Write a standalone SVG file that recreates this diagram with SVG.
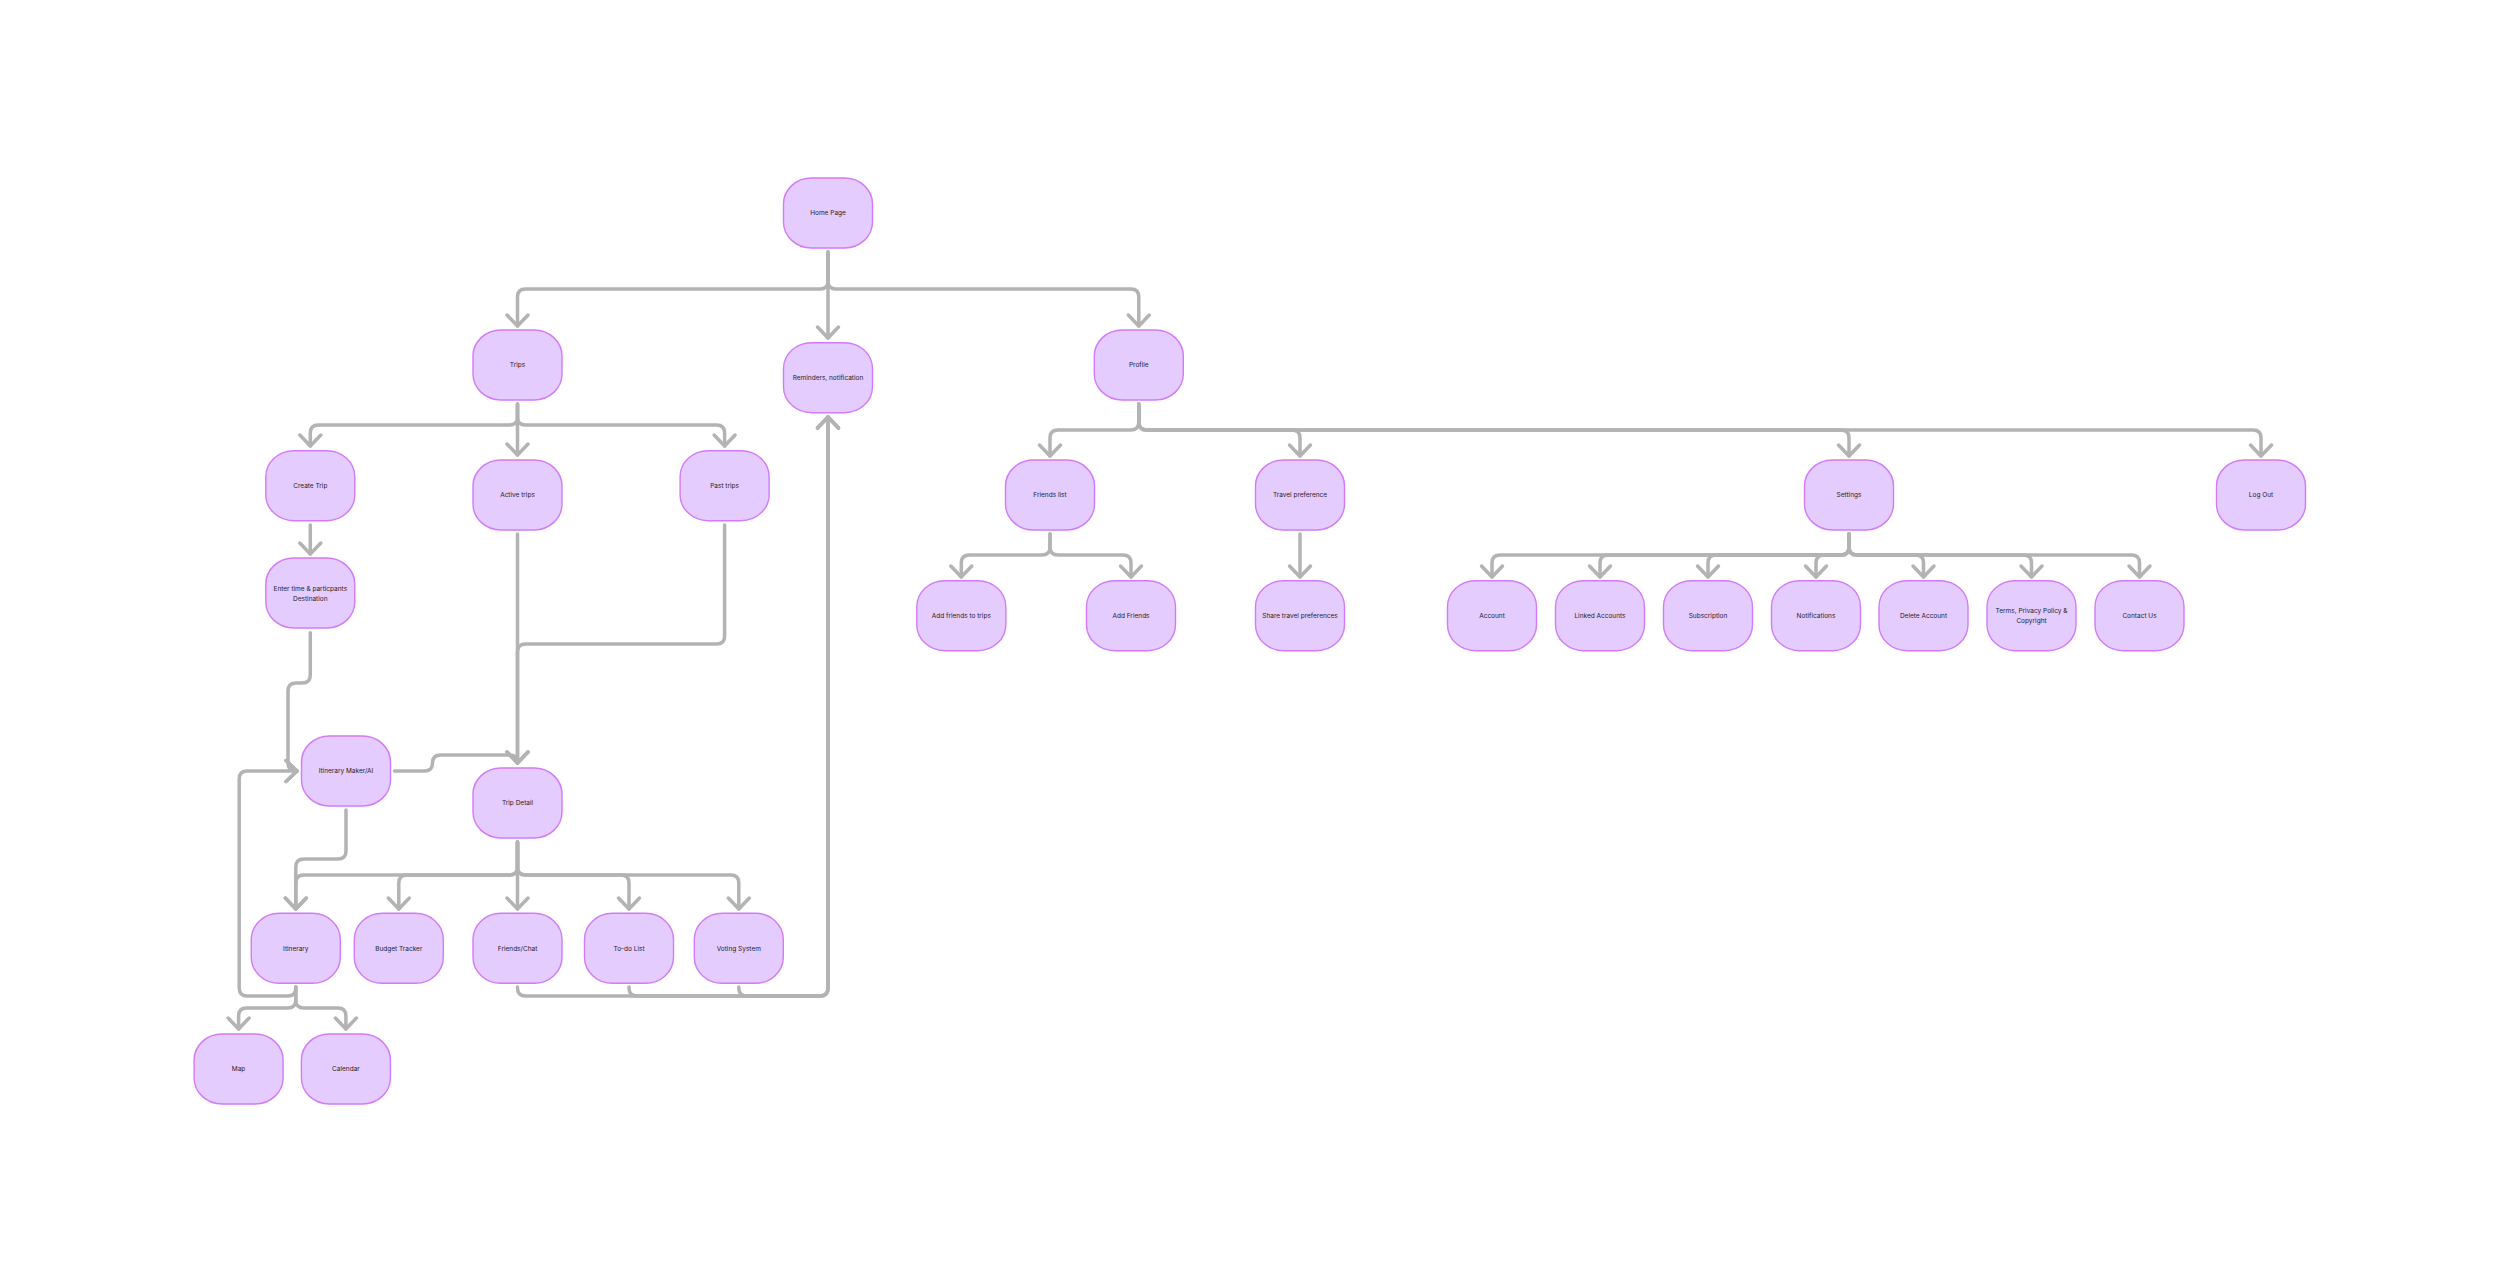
<svg xmlns="http://www.w3.org/2000/svg" width="2500" height="1282" viewBox="0 0 2500 1282">
<style>
.n rect{fill:#E4CCFF;stroke:#D27AF8;stroke-width:1.4}
.n text{font-family:Inter,"Noto Sans",sans-serif;font-size:6.5px;fill:#1E1E1E;text-anchor:middle}
.c path{fill:none;stroke:#B3B3B3;stroke-width:3.5;stroke-linecap:round;stroke-linejoin:round;marker-end:url(#ar)}
</style>
<defs>
<marker id="ar" markerUnits="userSpaceOnUse" viewBox="-14 -14 18 28" markerWidth="18" markerHeight="28" refX="0" refY="0" orient="auto" overflow="visible">
<path d="M-11,-10.5 L0,0 L-11,10.5" fill="none" stroke="#B3B3B3" stroke-width="3.5" stroke-linecap="round" stroke-linejoin="round"/>
</marker>
</defs>
<rect width="2500" height="1282" fill="#FFFFFF"/>
<g class="c" id="connectors">
<path d="M828,252 V281 Q828,289 820,289 H525.5 Q517.5,289 517.5,297 V326"/>
<path d="M828,252 V338"/>
<path d="M828,252 V281 Q828,289 836,289 H1130.8 Q1138.8,289 1138.8,297 V326"/>
<path d="M517.5,404 V417 Q517.5,425 509.5,425 H318.3 Q310.3,425 310.3,433 V446"/>
<path d="M517.5,404 V455"/>
<path d="M517.5,404 V417 Q517.5,425 525.5,425 H716.6 Q724.6,425 724.6,433 V446"/>
<path d="M310.3,525 V554"/>
<path d="M310.3,632.7 V675 Q310.3,683 302.3,683 H296 Q288,683 288,691 V763 Q288,771 296,771 H297"/>
<path d="M394.5,771 H424.5 Q432.5,771 432.5,763 Q432.5,755 440.5,755 H509.5 Q517.5,755 517.5,763"/>
<path d="M517.5,534 V763"/>
<path d="M724.6,525 V636 Q724.6,644 716.6,644 H525.5 Q517.5,644 517.5,652 V763"/>
<path d="M517.5,842 V867 Q517.5,875 509.5,875 H303.8 Q295.8,875 295.8,883 V909"/>
<path d="M517.5,842 V867 Q517.5,875 509.5,875 H406.8 Q398.8,875 398.8,883 V909"/>
<path d="M517.5,842 V909"/>
<path d="M517.5,842 V867 Q517.5,875 525.5,875 H621 Q629,875 629,883 V909"/>
<path d="M517.5,842 V867 Q517.5,875 525.5,875 H730.8 Q738.8,875 738.8,883 V909"/>
<path d="M346,810 V851 Q346,859 338,859 H303.8 Q295.8,859 295.8,867 V909"/>
<path d="M295.8,987 V1000 Q295.8,1008 287.8,1008 H246.6 Q238.6,1008 238.6,1016 V1029"/>
<path d="M295.8,987 V1000 Q295.8,1008 303.8,1008 H337.9 Q345.9,1008 345.9,1016 V1029"/>
<path d="M295.8,987 V988 Q295.8,996 287.8,996 H247.2 Q239.2,996 239.2,988 V779 Q239.2,771 247.2,771 H297"/>
<path d="M517.5,987 V988 Q517.5,996 525.5,996 H820 Q828,996 828,988 V417"/>
<path d="M629,987 V988 Q629,996 637,996 H820 Q828,996 828,988 V417"/>
<path d="M738.8,987 V988 Q738.8,996 746.8,996 H820 Q828,996 828,988 V417"/>
<path d="M1138.8,404 V422 Q1138.8,430 1130.8,430 H1058 Q1050,430 1050,438 V456"/>
<path d="M1138.8,404 V422 Q1138.8,430 1146.8,430 H1292 Q1300,430 1300,438 V456"/>
<path d="M1138.8,404 V422 Q1138.8,430 1146.8,430 H1841 Q1849,430 1849,438 V456"/>
<path d="M1138.8,404 V422 Q1138.8,430 1146.8,430 H2253 Q2261,430 2261,438 V456"/>
<path d="M1050,534 V547 Q1050,555 1042,555 H969.3 Q961.3,555 961.3,563 V577"/>
<path d="M1050,534 V547 Q1050,555 1058,555 H1123 Q1131,555 1131,563 V577"/>
<path d="M1300,534 V577"/>
<path d="M1849,534 V547 Q1849,555 1841,555 H1500 Q1492,555 1492,563 V577"/>
<path d="M1849,534 V547 Q1849,555 1841,555 H1608 Q1600,555 1600,563 V577"/>
<path d="M1849,534 V547 Q1849,555 1841,555 H1716 Q1708,555 1708,563 V577"/>
<path d="M1849,534 V547 Q1849,555 1841,555 H1824 Q1816,555 1816,563 V577"/>
<path d="M1849,534 V547 Q1849,555 1857,555 H1915.5 Q1923.5,555 1923.5,563 V577"/>
<path d="M1849,534 V547 Q1849,555 1857,555 H2023.5 Q2031.5,555 2031.5,563 V577"/>
<path d="M1849,534 V547 Q1849,555 1857,555 H2131.5 Q2139.5,555 2139.5,563 V577"/>
</g>
<g class="n" id="home"><rect x="783.5" y="178" width="89" height="70" rx="28" ry="26"/><text x="828" y="215.3">Home Page</text></g>
<g class="n" id="trips"><rect x="473" y="330" width="89" height="70" rx="28" ry="26"/><text x="517.5" y="367.3">Trips</text></g>
<g class="n" id="reminders"><rect x="783.5" y="342.7" width="89" height="70" rx="28" ry="26"/><text x="828" y="380">Reminders, notification</text></g>
<g class="n" id="profile"><rect x="1094.3" y="330" width="89" height="70" rx="28" ry="26"/><text x="1138.8" y="367.3">Profile</text></g>
<g class="n" id="create-trip"><rect x="265.8" y="450.7" width="89" height="70" rx="28" ry="26"/><text x="310.3" y="488">Create Trip</text></g>
<g class="n" id="active-trips"><rect x="473" y="460" width="89" height="70" rx="28" ry="26"/><text x="517.5" y="497.3">Active trips</text></g>
<g class="n" id="past-trips"><rect x="680.1" y="450.7" width="89" height="70" rx="28" ry="26"/><text x="724.6" y="488">Past trips</text></g>
<g class="n" id="enter-time"><rect x="265.8" y="558" width="89" height="70" rx="28" ry="26"/><text x="310.3" y="591.3">Enter time &amp; particpants</text><text x="310.3" y="600.6">Destination</text></g>
<g class="n" id="itinerary-maker"><rect x="301.5" y="736" width="89" height="70" rx="28" ry="26"/><text x="346" y="773.3">Itinerary Maker/AI</text></g>
<g class="n" id="trip-detail"><rect x="473" y="768" width="89" height="70" rx="28" ry="26"/><text x="517.5" y="805.3">Trip Detail</text></g>
<g class="n" id="itinerary"><rect x="251.3" y="913.3" width="89" height="70" rx="28" ry="26"/><text x="295.8" y="950.6">Itinerary</text></g>
<g class="n" id="budget-tracker"><rect x="354.3" y="913.3" width="89" height="70" rx="28" ry="26"/><text x="398.8" y="950.6">Budget Tracker</text></g>
<g class="n" id="friends-chat"><rect x="473" y="913.3" width="89" height="70" rx="28" ry="26"/><text x="517.5" y="950.6">Friends/Chat</text></g>
<g class="n" id="todo-list"><rect x="584.5" y="913.3" width="89" height="70" rx="28" ry="26"/><text x="629" y="950.6">To-do List</text></g>
<g class="n" id="voting-system"><rect x="694.3" y="913.3" width="89" height="70" rx="28" ry="26"/><text x="738.8" y="950.6">Voting System</text></g>
<g class="n" id="map"><rect x="194.1" y="1034" width="89" height="70" rx="28" ry="26"/><text x="238.6" y="1071.3">Map</text></g>
<g class="n" id="calendar"><rect x="301.4" y="1034" width="89" height="70" rx="28" ry="26"/><text x="345.9" y="1071.3">Calendar</text></g>
<g class="n" id="friends-list"><rect x="1005.5" y="460" width="89" height="70" rx="28" ry="26"/><text x="1050" y="497.3">Friends list</text></g>
<g class="n" id="travel-preference"><rect x="1255.5" y="460" width="89" height="70" rx="28" ry="26"/><text x="1300" y="497.3">Travel preference</text></g>
<g class="n" id="settings"><rect x="1804.5" y="460" width="89" height="70" rx="28" ry="26"/><text x="1849" y="497.3">Settings</text></g>
<g class="n" id="log-out"><rect x="2216.5" y="460" width="89" height="70" rx="28" ry="26"/><text x="2261" y="497.3">Log Out</text></g>
<g class="n" id="add-friends-to-trips"><rect x="916.8" y="580.7" width="89" height="70" rx="28" ry="26"/><text x="961.3" y="618">Add friends to trips</text></g>
<g class="n" id="add-friends"><rect x="1086.5" y="580.7" width="89" height="70" rx="28" ry="26"/><text x="1131" y="618">Add Friends</text></g>
<g class="n" id="share-travel"><rect x="1255.5" y="580.7" width="89" height="70" rx="28" ry="26"/><text x="1300" y="618">Share travel preferences</text></g>
<g class="n" id="account"><rect x="1447.5" y="580.7" width="89" height="70" rx="28" ry="26"/><text x="1492" y="618">Account</text></g>
<g class="n" id="linked-accounts"><rect x="1555.5" y="580.7" width="89" height="70" rx="28" ry="26"/><text x="1600" y="618">Linked Accounts</text></g>
<g class="n" id="subscription"><rect x="1663.5" y="580.7" width="89" height="70" rx="28" ry="26"/><text x="1708" y="618">Subscription</text></g>
<g class="n" id="notifications"><rect x="1771.5" y="580.7" width="89" height="70" rx="28" ry="26"/><text x="1816" y="618">Notifications</text></g>
<g class="n" id="delete-account"><rect x="1879" y="580.7" width="89" height="70" rx="28" ry="26"/><text x="1923.5" y="618">Delete Account</text></g>
<g class="n" id="terms"><rect x="1987" y="580.7" width="89" height="70" rx="28" ry="26"/><text x="2031.5" y="613.2">Terms, Privacy Policy &amp;</text><text x="2031.5" y="622.9">Copyright</text></g>
<g class="n" id="contact-us"><rect x="2095" y="580.7" width="89" height="70" rx="28" ry="26"/><text x="2139.5" y="618">Contact Us</text></g>
</svg>
